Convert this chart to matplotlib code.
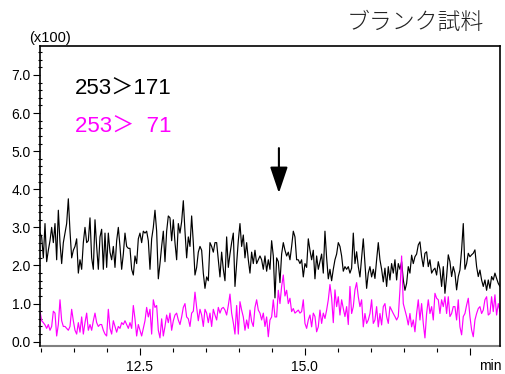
import numpy as np
import matplotlib
matplotlib.use("Agg")
import matplotlib.pyplot as plt
from matplotlib.ticker import MultipleLocator, FormatStrFormatter

# constant scan interval of the trace (min)
SCAN_START = 10.990
SCAN_STEP = 0.02525

# 253>171 transition, intensity x100
BLACK_171 = [
    2.85, 2.75, 2.2, 3.1, 2.1, 2.4, 2.65, 3.0, 2.6, 3.1,
    2.15, 3.45, 2.6, 2.05, 2.6, 2.85, 3.1, 3.75, 2.9, 2.2,
    2.4, 2.5, 2.7, 1.8, 2.15, 1.9, 2.6, 3.0, 2.6, 2.65,
    3.25, 2.2, 1.9, 3.2, 2.5, 1.9, 2.75, 2.95, 1.9, 2.85,
    1.95, 2.85, 2.35, 2.15, 2.5, 1.95, 2.65, 3.0, 2.5, 1.9,
    2.3, 2.85, 2.5, 2.45, 2.45, 1.9, 1.75, 2.25, 2.05, 2.7,
    2.85, 2.6, 2.9, 2.85, 2.9, 2.65, 1.9, 2.7, 3.0, 3.45,
    2.9, 1.65, 2.05, 2.5, 2.9, 2.1, 2.9, 3.3,
    3.25, 2.65, 3.2, 2.6, 2.15, 3.1, 2.85, 3.15, 3.7, 2.9,
    2.2, 2.75, 2.5, 3.3, 2.6,
    1.75, 1.95, 2.35, 2.5, 2.4, 1.8, 1.4, 1.7, 1.6, 2.6,
    2.5, 2.35, 2.6, 2.6, 2.15, 1.7, 2.35, 1.9, 1.6, 2.75,
    1.95, 2.3, 2.6, 2.85, 1.45, 2.05, 2.65, 3.1, 2.5, 2.8,
    2.2, 2.6, 2.15, 1.8, 2.35, 2.05, 2.4, 2.05, 2.15, 2.25,
    2.15, 1.9, 2.25, 1.85, 2.15, 1.9, 2.65, 2.25, 1.15, 2.2,
    2.1, 1.55, 2.3, 2.6, 2.4, 2.25, 2.35, 2.15, 2.5, 2.9,
    2.75, 2.15, 2.15, 2.05, 2.15, 1.7, 2.05, 1.95, 2.7, 2.4,
    2.15, 2.4, 1.65, 2.25, 1.9, 2.1, 2.3, 1.8, 2.9, 2.2,
    1.65,
    1.9, 1.6, 1.9, 2.15, 2.3, 2.6, 2.5, 2.25, 1.85, 1.97,
    1.9, 1.97, 1.8, 1.93, 2.85, 2.05, 2.36, 1.97, 1.7, 2.2,
    2.7, 2.05, 1.4, 1.8, 1.97, 1.7, 1.9, 1.66, 2.15, 2.6,
    2.15, 1.9, 1.57, 1.93, 1.45, 1.97, 1.62, 2.05, 1.8, 2.15,
    1.62, 2.05, 1.9, 2.1, 1.62, 1.35, 1.53, 1.97, 1.8, 2.27,
    2.05, 2.23, 2.3, 2.54, 2.62, 2.23, 1.97, 2.32, 2.36, 1.97,
    2.15, 1.8, 1.88, 1.93, 1.75, 2.1, 1.9, 1.45, 1.97, 1.27,
    1.71, 2.28, 2.1, 1.71, 1.97, 1.8, 1.36, 1.71, 1.88, 2.41,
    3.1, 1.9, 2.05, 2.32, 2.23, 2.28, 2.32, 2.41, 1.97, 1.71,
    1.88, 1.62, 1.45, 1.62, 1.35, 1.62, 1.4, 1.71, 1.62, 1.8,
    1.66, 1.53, 1.45,
]

# 253>71 transition, intensity x100
MAGENTA_71 = [
    0.8, 0.55, 0.5, 0.44, 0.35, 0.45, 0.3, 0.4, 0.8, 0.75,
    0.15, 0.45, 1.1, 0.55, 0.4, 0.4, 0.35, 0.3, 0.4, 0.85,
    0.55, 0.3, 0.2, 0.5, 0.25, 0.65, 0.2, 0.5, 0.75, 0.3,
    0.45, 0.3, 0.55, 0.75, 0.5, 0.4, 0.45, 0.45, 0.3, 0.2,
    0.15, 0.85, 0.35, 0.2, 0.55, 0.4, 0.25, 0.4, 0.35, 0.5,
    0.45, 0.55, 0.45, 0.35, 0.5, 0.35, 0.95, 0.6, 0.15, 0.45,
    0.3, 0.15, 0.35, 0.55, 0.9, 0.65, 0.85, 0.2, 1.1, 0.9,
    0.95, 0.3, 0.1, 0.6, 0.15, 0.4, 0.7, 0.5,
    0.75, 0.3, 0.55, 0.7, 0.75, 0.57, 0.45, 0.65, 0.9, 1.0,
    0.65, 0.6, 0.4, 0.75, 0.8, 1.3, 0.9, 0.55, 0.85, 0.7,
    0.4, 0.85, 0.75, 0.5, 0.75, 0.4, 0.85, 0.7, 0.57, 0.9,
    0.75, 0.87, 0.9, 0.83, 0.7, 0.95, 1.25, 0.75, 0.5, 0.2,
    0.95, 0.2, 1.05, 0.83, 0.65, 0.3, 0.57, 0.35, 0.83, 0.53,
    0.4, 0.9, 1.1, 0.83, 0.75, 0.57, 0.75, 0.4, 0.65, 0.13,
    0.57, 0.65, 1.1, 0.65, 0.65, 1.35, 1.0, 1.45, 1.75, 1.2,
    1.35, 1.0, 1.14, 0.79, 0.87, 0.75, 0.79, 0.83, 0.75, 0.79,
    1.1, 0.48, 0.35, 0.57, 0.7, 0.39, 0.75, 0.66, 0.26, 0.39,
    0.83, 0.48, 0.75, 0.61, 0.83, 1.1,
    1.5, 1.15, 0.5, 1.36, 0.92, 1.18, 0.7, 1.1, 0.87, 0.66,
    0.92, 0.45, 1.45, 0.74, 0.92, 1.36, 1.55, 1.18, 0.92, 1.1,
    0.39, 0.74, 0.48, 0.57, 0.74, 1.1, 0.48, 0.57, 0.92, 0.39,
    0.74, 0.44, 0.92, 1.0, 0.66, 0.48, 0.92, 0.83, 0.74, 0.66,
    0.57, 0.66, 1.36, 2.25, 1.0, 0.83, 0.66, 0.44, 0.74, 0.39,
    0.57, 0.26, 0.74, 1.1, 0.57, 1.0, 0.48, 0.1, 0.74, 1.1,
    0.74, 0.92, 0.57, 1.27, 1.14, 1.1, 0.74, 1.1, 0.92, 1.18,
    0.74, 1.18, 0.66, 0.74, 0.92, 0.92, 0.57, 1.1, 0.39, 0.18,
    0.66, 0.74, 0.96, 1.14, 0.66, 0.31, 0.13, 0.57, 0.74, 0.87,
    0.92, 0.74, 0.83, 1.1, 1.18, 0.7, 0.74, 1.18, 0.79, 1.23,
    0.7, 1.0, 0.8,
]

X_TICKS = [12.5, 15.0, 17.5]
X_TICK_LABELS = ["12.5", "15.0", ""]
ARROW_TIME = 14.61  # expected retention time

plt.rcParams['font.family'] = ['Liberation Sans', 'Noto Sans CJK JP', 'DejaVu Sans']

fig = plt.figure(figsize=(5.05, 3.74), dpi=100)
ax = fig.add_axes([40 / 505, 1 - 345.7 / 374, 460 / 505, (345.7 - 46) / 374])

times = SCAN_START + SCAN_STEP * np.arange(len(BLACK_171))
ax.plot(times, BLACK_171, color='black', lw=0.85)
ax.plot(times, MAGENTA_71, color='#ff00ff', lw=0.85)

ax.set_xlim(10.99, 17.96)
ax.set_ylim(-0.105, 7.76)

# frame: black left/top/right, grey base line, ticks hang slightly below it
for side in ['left', 'top', 'right']:
    ax.spines[side].set_linewidth(1.2)
ax.spines['bottom'].set_position(('outward', 2))
ax.spines['bottom'].set_visible(False)
ax.plot([0, 1], [0, 0], transform=ax.transAxes, color='#808080', lw=1.5, clip_on=False)

ax.set_xticks(X_TICKS)
ax.set_xticklabels(X_TICK_LABELS)
ax.xaxis.set_minor_locator(MultipleLocator(0.5))
ax.yaxis.set_major_locator(MultipleLocator(1.0))
ax.yaxis.set_minor_locator(MultipleLocator(0.2))
ax.yaxis.set_major_formatter(FormatStrFormatter('%.1f'))

ax.tick_params(axis='x', which='major', direction='out', length=5, width=0.8, pad=3, labelsize=10)
ax.tick_params(axis='x', which='minor', direction='out', length=3, width=0.8)
ax.tick_params(axis='y', which='major', direction='out', length=5, width=0.8, pad=1.5, labelsize=10)
ax.tick_params(axis='y', which='minor', direction='inout', length=3, width=0.8)

fig.text(490 / 505, 1 - 366 / 374, "min", ha='center', va='center', fontsize=10)
fig.text(29 / 505, 1 - 38 / 374, "(x100)", ha='left', va='center', fontsize=10.5)
fig.text(484 / 505, 1 - 22 / 374, "ブランク試料", ha='right', va='center',
         fontsize=16.5, fontweight='light', color='#222222')

fig.text(75 / 505, 1 - 95 / 374, "253＞171", ha='left', va='baseline', fontsize=16, color='black')
fig.text(75 / 505, 1 - 133 / 374, "253＞  71", ha='left', va='baseline', fontsize=16, color='#ff00ff')

ax.annotate('', xy=(ARROW_TIME, 3.9), xytext=(ARROW_TIME, 5.08),
            arrowprops=dict(arrowstyle='-|>,head_length=0.8,head_width=0.27',
                            mutation_scale=20, lw=1.5, color='black',
                            shrinkA=0, shrinkB=0))

fig.savefig("out.png", dpi=100)
